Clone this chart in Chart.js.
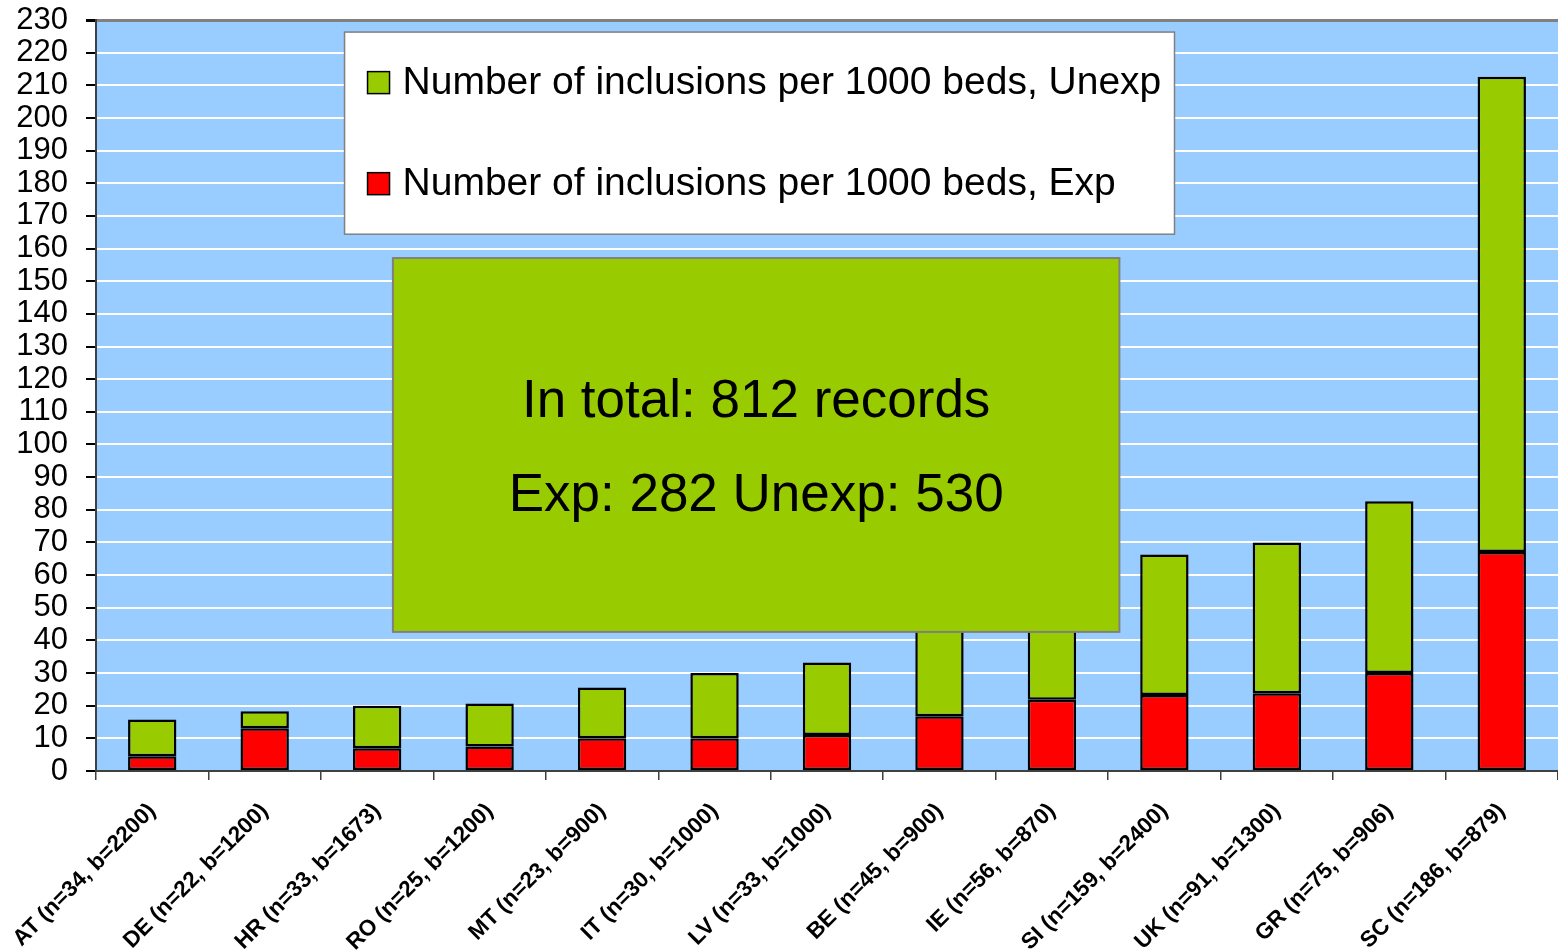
<!DOCTYPE html>
<html>
<head>
<meta charset="utf-8">
<script src="https://cdn.jsdelivr.net/npm/chart.js@4/dist/chart.umd.min.js"></script>
<style>
html,body{margin:0;padding:0;background:#fff;}
#wrap{width:1558px;height:952px;position:relative;}
</style>
</head>
<body>
<div id="wrap"><canvas id="c" width="1558" height="952"></canvas></div>
<script>
const categories = ['AT (n=34, b=2200)','DE (n=22, b=1200)','HR (n=33, b=1673)','RO (n=25, b=1200)','MT (n=23, b=900)','IT (n=30, b=1000)','LV (n=33, b=1000)','BE (n=45, b=900)','IE (n=56, b=870)','SI (n=159, b=2400)','UK (n=91, b=1300)','GR (n=75, b=906)','SC (n=186, b=879)'];
const expValues   = [4.5, 13.1, 7.0, 7.5, 10.0, 10.0, 11.0, 16.8, 21.8, 23.3, 23.8, 30.0, 67.1];
const unexpValues = [11.3, 5.2, 13.0, 13.2, 15.6, 20.0, 22.2, 33.2, 42.6, 43.0, 46.2, 52.6, 145.5];
const seriesNames = ['Number of inclusions per 1000 beds, Exp','Number of inclusions per 1000 beds, Unexp'];
const yMin = 0, yMax = 230, yStep = 10;
const noteLines = ['In total: 812 records','Exp: 282 Unexp: 530'];

const FONT = "'Liberation Sans', Arial, sans-serif";

const overlay = {
  id: 'overlay',
  beforeDraw(chart){
    const {ctx, chartArea:a} = chart;
    ctx.save();
    ctx.fillStyle = '#99CCFF';
    ctx.fillRect(a.left, a.top, a.right - a.left, a.bottom - a.top);
    ctx.restore();
  },
  afterDatasetsDraw(chart){
    const {ctx} = chart;
    const xs = chart.scales.x, ys = chart.scales.y;
    // legend box
    const lx1 = xs.getPixelForValue(1.71), lx2 = xs.getPixelForValue(9.09);
    const ly1 = ys.getPixelForValue(226.3), ly2 = ys.getPixelForValue(164.4);
    ctx.save();
    ctx.fillStyle = '#ffffff';
    ctx.fillRect(lx1, ly1, lx2 - lx1, ly2 - ly1);
    ctx.strokeStyle = '#808080';
    ctx.lineWidth = 1.5;
    ctx.strokeRect(lx1, ly1, lx2 - lx1, ly2 - ly1);
    const items = [chart.data.datasets[1], chart.data.datasets[0]];
    const h = ly2 - ly1;
    ctx.font = '39px ' + FONT;
    ctx.textBaseline = 'middle';
    ctx.textAlign = 'left';
    items.forEach((ds, i) => {
      const cy = ly1 + h * (i === 0 ? 0.25 : 0.75);
      ctx.fillStyle = ds.backgroundColor;
      ctx.fillRect(lx1 + 23, cy - 11, 22, 22);
      ctx.strokeStyle = '#000';
      ctx.lineWidth = 1.5;
      ctx.strokeRect(lx1 + 23, cy - 11, 22, 22);
      ctx.fillStyle = '#000';
      ctx.fillText(ds.label, lx1 + 58, cy + 1);
    });
    // note box
    const bx1 = xs.getPixelForValue(2.14), bx2 = xs.getPixelForValue(8.6);
    const by1 = ys.getPixelForValue(157.1), by2 = ys.getPixelForValue(42.6);
    ctx.fillStyle = '#99CC00';
    ctx.fillRect(bx1, by1, bx2 - bx1, by2 - by1);
    ctx.strokeStyle = '#808080';
    ctx.lineWidth = 2;
    ctx.strokeRect(bx1, by1, bx2 - bx1, by2 - by1);
    ctx.fillStyle = '#000';
    ctx.font = '53px ' + FONT;
    ctx.textAlign = 'center';
    const cx = (bx1 + bx2) / 2;
    ctx.fillText(noteLines[0], cx, ys.getPixelForValue(113));
    ctx.fillText(noteLines[1], cx, ys.getPixelForValue(84));
    ctx.restore();
  }
};

new Chart(document.getElementById('c'), {
  type: 'bar',
  data: {
    labels: categories,
    datasets: [
      {label: seriesNames[0], data: expValues, backgroundColor: '#FF0000', borderColor: '#000', borderWidth: 2.5, borderSkipped: false},
      {label: seriesNames[1], data: unexpValues, backgroundColor: '#99CC00', borderColor: '#000', borderWidth: 2.5, borderSkipped: false}
    ]
  },
  options: {
    responsive: false,
    animation: false,
    devicePixelRatio: 1,
    layout: {padding: {top: 20, right: 0, left: 0, bottom: 0}},
    plugins: {legend: {display: false}, tooltip: {enabled: false}},
    datasets: {bar: {categoryPercentage: 1.0, barPercentage: 0.43}},
    scales: {
      x: {
        stacked: true,
        offset: true,
        grid: {offset: true, drawOnChartArea: false, color: '#404040', tickLength: 9, lineWidth: 1.5},
        border: {display: true, color: '#404040', width: 2},
        ticks: {
          font: {family: FONT, size: 22.5, weight: 'bold'},
          color: '#000',
          maxRotation: 45, minRotation: 45,
          autoSkip: false,
          padding: 18
        },
        afterFit(s){ s.height = 181; s.paddingLeft = 0; s.paddingRight = 0; }
      },
      y: {
        stacked: true,
        min: yMin, max: yMax,
        ticks: {stepSize: yStep, autoSkip: false, font: {family: FONT, size: 31}, color: '#000', padding: 18},
        grid: {
          color: (c) => c.tick && c.tick.value === yMax ? '#808080' : '#FFFFFF',
          lineWidth: (c) => c.tick && c.tick.value === yMax ? 3 : 2,
          tickColor: '#000', tickLength: 10
        },
        border: {display: true, color: '#404040', width: 2},
        afterFit(s){ s.width = 96; s.paddingTop = 0; s.paddingBottom = 0; }
      }
    }
  },
  plugins: [overlay]
});
</script>
</body>
</html>
